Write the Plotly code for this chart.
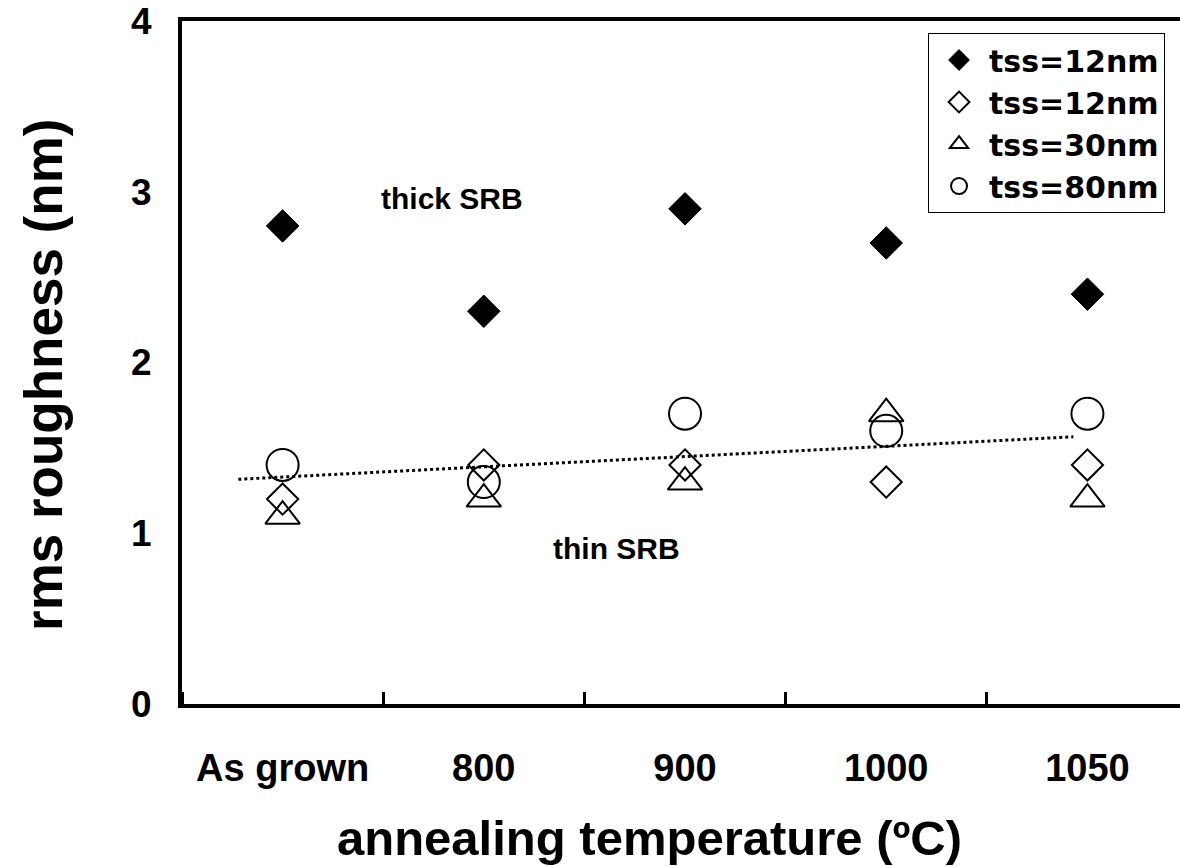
import plotly.graph_objects as go

# Annealing temperature categories and their positions on the x axis
categories = ["As grown", "800", "900", "1000", "1050"]
positions = [0, 1, 2, 3, 4]

# rms roughness (nm)
thick_12nm = [2.8, 2.3, 2.9, 2.7, 2.4]
thin_12nm = [1.2, 1.4, 1.4, 1.3, 1.4]
thin_30nm = [1.1, 1.2, 1.3, 1.7, 1.2]
thin_80nm = [1.4, 1.3, 1.7, 1.6, 1.7]

# Guide line through the thin-SRB group (end points, category units / nm)
trend_x = [-0.22, 3.93]
trend_y = [1.316, 1.565]

y_ticks = [0, 1, 2, 3, 4]

BASE_FONT = "Liberation Sans, Arial, sans-serif"

fig = go.Figure()

fig.add_trace(go.Scatter(
    x=trend_x, y=trend_y, mode="lines",
    line=dict(color="black", width=3, dash="dot"),
    showlegend=False, hoverinfo="skip",
))

fig.add_trace(go.Scatter(
    x=positions, y=thick_12nm, mode="markers", name="tss=12nm",
    marker=dict(symbol="diamond", size=25, color="black",
                line=dict(color="black", width=1)),
))
fig.add_trace(go.Scatter(
    x=positions, y=thin_12nm, mode="markers", name="tss=12nm",
    marker=dict(symbol="diamond-open", size=24, color="black",
                line=dict(color="black", width=2)),
))
fig.add_trace(go.Scatter(
    x=positions, y=thin_30nm, mode="markers", name="tss=30nm",
    marker=dict(symbol="triangle-up-open", size=30, color="black",
                line=dict(color="black", width=2)),
))
fig.add_trace(go.Scatter(
    x=positions, y=thin_80nm, mode="markers", name="tss=80nm",
    marker=dict(symbol="circle-open", size=32, color="black",
                line=dict(color="black", width=2)),
))

PLOT_LEFT, PLOT_W = 182, 998
PLOT_BOTTOM, PLOT_H = 704, 683

fig.update_layout(
    width=1180, height=866,
    margin=dict(l=182, r=0, t=21, b=162),
    paper_bgcolor="white", plot_bgcolor="white",
    font=dict(family=BASE_FONT, color="black", weight="bold"),
    showlegend=True,
    legend=dict(
        x=0.985, y=0.9824, xanchor="right", yanchor="top",
        bgcolor="white", bordercolor="black", borderwidth=1,
        font=dict(family="DejaVu Sans, sans-serif", size=30, color="black",
                  weight="bold"),
        itemwidth=50, tracegroupgap=0,
    ),
    xaxis=dict(
        range=[-0.5, 4.46], tickmode="array",
        tickvals=positions, ticktext=categories,
        ticks="", showgrid=False, zeroline=False,
        showline=True, linecolor="black", linewidth=4, mirror=True,
        tickfont=dict(size=38, family=BASE_FONT, weight="bold"),
        ticklabelstandoff=27,
        minor=dict(tick0=0.5, dtick=1, ticks="inside", ticklen=12,
                   tickwidth=3, tickcolor="black", showgrid=False),
    ),
    yaxis=dict(
        range=[0, 4], tickmode="array", tickvals=y_ticks,
        ticktext=[str(v) for v in y_ticks],
        ticks="", showgrid=False, zeroline=False,
        showline=True, linecolor="black", linewidth=4,
        tickfont=dict(size=37, family=BASE_FONT, weight="bold"),
        ticklabelstandoff=19,
    ),
    annotations=[
        dict(text="thick SRB", x=0.84, y=2.96, xref="x", yref="y",
             showarrow=False,
             font=dict(size=30, family=BASE_FONT, weight="bold")),
        dict(text="thin SRB", x=1.66, y=0.91, xref="x", yref="y",
             showarrow=False,
             font=dict(size=30, family=BASE_FONT, weight="bold")),
        dict(text="annealing temperature (ºC)",
             x=(649 - PLOT_LEFT) / PLOT_W, xref="paper",
             y=-(838 - PLOT_BOTTOM) / PLOT_H, yref="paper",
             showarrow=False,
             font=dict(size=49, family=BASE_FONT, weight="bold"),
             xanchor="center", yanchor="middle"),
        dict(text="rms roughness (nm)", textangle=-90,
             x=(43 - PLOT_LEFT) / PLOT_W, xref="paper",
             y=(PLOT_BOTTOM - 375) / PLOT_H, yref="paper",
             showarrow=False,
             font=dict(size=53, family=BASE_FONT, weight="bold"),
             xanchor="center", yanchor="middle"),
    ],
)

fig.write_html("out.html")
